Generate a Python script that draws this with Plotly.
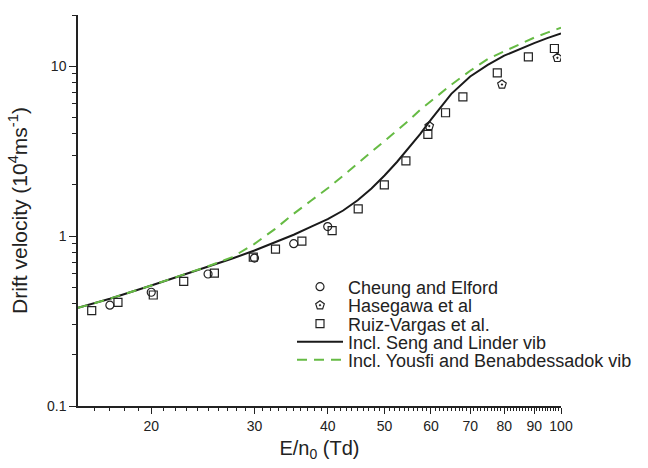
import plotly.graph_objects as go

# ---- data ----
cheung_x = [17, 20, 25, 30, 35, 40]
cheung_y = [0.392, 0.467, 0.598, 0.742, 0.902, 1.137]

hasegawa_x = [59.6, 79.3, 98.6]
hasegawa_y = [4.44, 7.80, 11.19]

ruiz_x = [15.83, 17.55, 20.16, 22.72, 25.63, 29.86, 32.58, 36.14, 40.70, 45.09,
          49.96, 54.38, 59.28, 63.54, 68.02, 77.86, 87.97, 97.44]
ruiz_y = [0.364, 0.407, 0.450, 0.542, 0.605, 0.752, 0.838, 0.935, 1.077, 1.445,
          2.00, 2.77, 3.97, 5.32, 6.60, 9.13, 11.34, 12.7]

curve_x = [15, 17, 20, 22.5, 25, 27.5, 30, 32.5, 35, 37.5, 40, 42.5, 45, 47.5, 50,
           52.5, 55, 57.5, 60, 65, 70, 75, 80, 85, 90, 95, 100]
seng_y = [0.378, 0.428, 0.512, 0.586, 0.657, 0.738, 0.822, 0.918, 1.018, 1.136, 1.257,
          1.414, 1.625, 1.907, 2.274, 2.729, 3.288, 3.98, 4.85, 6.87, 8.69, 10.18,
          11.53, 12.65, 13.67, 14.67, 15.58]
yousfi_y = [0.378, 0.428, 0.512, 0.588, 0.664, 0.752, 0.900, 1.099, 1.354, 1.619, 1.912,
            2.267, 2.670, 3.112, 3.611, 4.156, 4.784, 5.530, 6.228, 7.776, 9.397, 11.01,
            12.22, 13.52, 14.71, 15.80, 16.84]

x_tickvals = [20, 30, 40, 50, 60, 70, 80, 90, 100]
x_ticktext = ["20", "30", "40", "50", "60", "70", "80", "90", "100"]
x_minor = [v for v in range(16, 100) if v % 10 != 0]
y_tickvals = [0.1, 1, 10]
y_ticktext = ["0.1", "1", "10"]
y_minor = [0.2, 0.3, 0.4, 0.5, 0.6, 0.7, 0.8, 0.9, 2, 3, 4, 5, 6, 7, 8, 9, 20]

names = ["Cheung and Elford", "Hasegawa et al", "Ruiz-Vargas et al.",
         "Incl. Seng and Linder vib", "Incl. Yousfi and Benabdessadok vib"]

FONT = "Arial, Liberation Sans, sans-serif"
GREEN = "#66BB44"
MK = "#222222"

fig = go.Figure()
fig.add_trace(go.Scatter(x=curve_x, y=seng_y, mode="lines", name=names[3],
                         line=dict(color="#1a1a1a", width=2), legend="legend4"))
fig.add_trace(go.Scatter(x=curve_x, y=yousfi_y, mode="lines", name=names[4],
                         line=dict(color=GREEN, width=2, dash="10px,7px"), legend="legend5"))
fig.add_trace(go.Scatter(x=cheung_x, y=cheung_y, mode="markers", name=names[0],
                         marker=dict(symbol="circle-open", size=8, color=MK, line=dict(width=1.2)),
                         legend="legend"))
fig.add_trace(go.Scatter(x=hasegawa_x, y=hasegawa_y, mode="markers", name=names[1],
                         marker=dict(symbol="pentagon-open-dot", size=9, color=MK, line=dict(width=1.2)),
                         legend="legend2"))
fig.add_trace(go.Scatter(x=ruiz_x, y=ruiz_y, mode="markers", name=names[2],
                         marker=dict(symbol="square-open", size=8, color=MK, line=dict(width=1.2)),
                         legend="legend3"))

L, R, T, B = 78, 87, 15, 62
W, H = 648, 468
ph = H - T - B
pw = W - L - R
row_px = [287, 305.5, 324, 342, 360]
leg_left_px = 292
legends = {}
for i, py in enumerate(row_px):
    key = "legend" if i == 0 else f"legend{i+1}"
    legends[key] = dict(x=(leg_left_px - L) / pw, y=(H - B - py) / ph,
                        xanchor="left", yanchor="middle",
                        bgcolor="rgba(0,0,0,0)", borderwidth=0,
                        font=dict(family=FONT, size=18, color="#222"),
                        itemsizing="trace", itemwidth=46)

fig.update_layout(
    width=W, height=H,
    margin=dict(l=L, r=R, t=T, b=B, autoexpand=False),
    paper_bgcolor="white", plot_bgcolor="white",
    font=dict(family=FONT, color="#222"),
    showlegend=True,
    **legends,
)
fig.update_xaxes(type="log", range=[1.176091, 2.0], automargin=False,
                 tickmode="array", tickvals=x_tickvals, ticktext=x_ticktext,
                 ticks="outside", ticklen=6, tickwidth=1.2, tickcolor="#222",
                 tickfont=dict(size=14, family=FONT, color="#222"),
                 minor=dict(tickmode="array", tickvals=x_minor, ticks="outside",
                            ticklen=3.5, tickwidth=1, tickcolor="#222", showgrid=False),
                 showline=True, linecolor="#222", linewidth=1.5,
                 showgrid=False, zeroline=False,
                 title=dict(text="E/n<sub>0</sub> (Td)", font=dict(size=20, family=FONT, color="#222"),
                            standoff=8))
fig.update_yaxes(type="log", range=[-1.0, 1.30103], automargin=False,
                 tickmode="array", tickvals=y_tickvals, ticktext=y_ticktext,
                 ticks="outside", ticklen=7, tickwidth=1.2, tickcolor="#222",
                 tickfont=dict(size=14, family=FONT, color="#222"),
                 minor=dict(tickmode="array", tickvals=y_minor, ticks="outside",
                            ticklen=4, tickwidth=1, tickcolor="#222", showgrid=False),
                 showline=True, linecolor="#222", linewidth=1.5,
                 showgrid=False, zeroline=False,
                 title=dict(text="Drift velocity (10<sup>4</sup>ms<sup>-1</sup>)",
                            font=dict(size=21, family=FONT, color="#222"), standoff=14))

fig.write_html("out.html", config={"displayModeBar": False},
               post_script="document.body.style.margin='0';document.body.style.padding='0';")
